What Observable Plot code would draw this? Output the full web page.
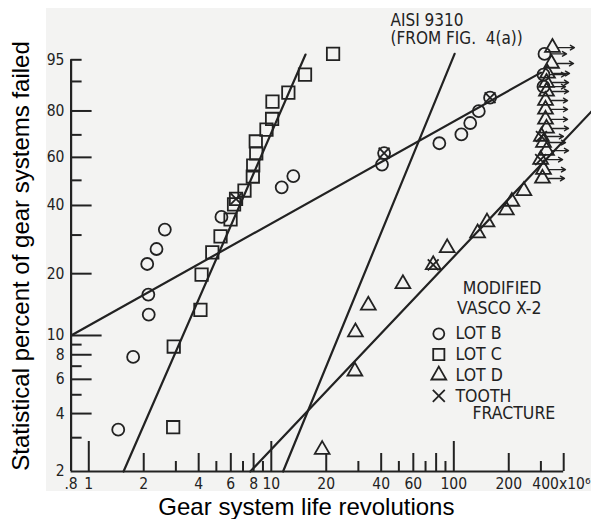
<!DOCTYPE html>
<html>
<head>
<meta charset="utf-8">
<script src="https://cdn.jsdelivr.net/npm/d3@7"></script>
<script src="https://cdn.jsdelivr.net/npm/@observablehq/plot@0.6"></script>
<style>
  body { margin: 0; background: #fff; }
  #wrap { position: relative; width: 591px; height: 519px; overflow: hidden; }
  #paper { position: absolute; left: 46px; top: 8px; width: 545px; height: 483px; background: #f3f3f2; }
  #chart { position: absolute; left: 0; top: 0; }
</style>
</head>
<body>
<div id="wrap"><div id="paper"></div><div id="chart"></div></div>
<script>
// Gear system life (millions of revolutions) and statistical percent failed
const lotBLife = [1.45, 1.75, 2.13, 2.12, 2.09, 2.35, 2.61, 5.33, 11.4, 13.2, 40.4, 41.5, 83.3, 110, 123, 137, 158, 310, 310, 314];
const lotBPct  = [3.3, 7.8, 12.7, 15.9, 22.2, 26.0, 31.7, 35.9, 47.1, 51.8, 56.8, 61.9, 66.3, 70.2, 75.1, 79.9, 84.9, 88.5, 91.8, 96.0];

const lotCLife = [2.90, 2.92, 4.09, 4.15, 4.75, 5.27, 5.98, 6.25, 6.41, 7.13, 7.92, 7.96, 8.27, 8.22, 9.41, 10.1, 10.15, 12.4, 15.3, 21.8];
const lotCPct  = [3.4, 8.8, 13.4, 19.8, 25.1, 29.6, 35.0, 40.4, 42.5, 45.8, 51.6, 56.4, 61.8, 67.1, 72.3, 76.8, 83.5, 86.6, 91.8, 96.0];

const lotDLife = [19.0, 28.7, 28.9, 34.0, 52.6, 77.1, 92.0, 135, 152, 194, 208, 242];
const lotDPct  = [2.6, 6.6, 10.4, 14.1, 17.9, 22.0, 26.3, 30.6, 34.1, 38.3, 41.5, 45.7];

// Lot D units still running at the end of test (drawn with arrows)
const lotDRunLife = [306, 310, 299, 322, 310, 302, 322, 318, 318, 318, 322, 322, 326, 343, 347];
const lotDRunPct  = [50.8, 54.6, 59.0, 63.0, 66.6, 69.3, 72.8, 76.6, 80.6, 83.9, 87.0, 89.7, 92.1, 94.3, 96.9];
const lotBRunLife = [310, 310, 314];
const lotBRunPct  = [88.5, 91.8, 96.0];

// Tooth fracture failures
const toothLife = [6.41, 41.5, 158, 77.1, 299, 302];
const toothPct  = [42.5, 61.9, 84.9, 22.0, 59.0, 69.3];

// Weibull fit lines (two end points each)
const lotBFitLife = [0.8, 300],  lotBFitPct = [10.0, 92.3];
const lotCFitLife = [1.55, 15.4], lotCFitPct = [2, 95.9];
const aisiFitLife = [11.6, 101], aisiFitPct = [2, 96.0];
const lotDFitLife = [7.67, 568], lotDFitPct = [2, 79.8];

// Axis ticks
const xTicksDecade = [1, 10, 100];
const xTicksMajor  = [2, 4, 6, 8, 20, 40, 60, 80, 200, 400];
const xTicksMinor  = [3, 5, 7, 9, 30, 50, 70, 90, 300];
const xTickLabels  = [0.8, 1, 2, 4, 6, 8, 10, 20, 40, 60, 100, 200];
const xLastLabel   = [400];
const yTicksDecade = [10];
const yTicksLong   = [80, 60, 40, 20, 8, 6, 4];
const yTicksShort  = [95, 90, 70, 50, 30, 9, 7, 5, 3];
const yTickLabels  = [95, 80, 60, 40, 20, 10, 8, 6, 4, 2];

const legendLabels  = ["LOT B", "LOT C", "LOT D", "TOOTH"];
const legendSymbols = ["circle", "square", "triangle", "times"];

// Weibull probability transform
const weib = p => Math.log(-Math.log(1 - p / 100));

const W = 591, H = 519, mL = 70.6, mR = 27.8, mT = 59.3, mB = 48;
const frameW = W - mL - mR, frameH = H - mT - mB;
const ink = "#222";
const letter = "'Liberation Sans Narrow', 'DejaVu Sans Condensed', sans-serif";
const idx = a => d3.range(a.length);
const pts = (lx, py) => idx(lx).map(i => ({life: lx[i], pct: py[i]}));

const fit = (lx, py) => Plot.line(pts(lx, py), {x: "life", y: d => weib(d.pct), stroke: ink, strokeWidth: 2.2});
const dots = (lx, py, symbol, r) => Plot.dot(pts(lx, py), {x: "life", y: d => weib(d.pct), symbol, r, stroke: ink, strokeWidth: 1.8, fill: "none"});
const txt = (data, o) => Plot.text(data, {fontFamily: letter, fill: ink, fontSize: 15.5, lineAnchor: "middle", ...o});

const legendMarks = legendLabels.flatMap((label, i) => [
  Plot.dot([label], {frameAnchor: "top-left", dx: 367.7, dy: 274 + i * 20.7, symbol: legendSymbols[i], r: legendSymbols[i] === "square" ? 6.3 : 5.5, stroke: ink, strokeWidth: 1.8, fill: "none"}),
  txt([label], {frameAnchor: "top-left", dx: 384.4, dy: 274 + i * 20.7, textAnchor: "start", fontSize: 17.5})
]);

const chart = Plot.plot({
  width: W, height: H,
  marginLeft: mL, marginRight: mR, marginTop: mT, marginBottom: mB,
  style: {background: "transparent", overflow: "visible"},
  x: {type: "log", domain: [0.8, 400], axis: null},
  y: {type: "linear", domain: [weib(2), weib(95)], axis: null},
  marks: [
    // axes
    Plot.ruleY([2], {y: weib, stroke: ink, strokeWidth: 2.2}),
    Plot.ruleX([0.8], {stroke: ink, strokeWidth: 2.2}),
    Plot.ruleX(xTicksDecade, {x: d => d, insetTop: frameH - 30, stroke: ink, strokeWidth: 2}),
    Plot.ruleX(xTicksMajor, {x: d => d, insetTop: frameH - 18, stroke: ink, strokeWidth: 2}),
    Plot.ruleX(xTicksMinor, {x: d => d, insetTop: frameH - 10, stroke: ink, strokeWidth: 2}),
    Plot.ruleY(yTicksDecade, {y: weib, insetRight: frameW - 31, stroke: ink, strokeWidth: 2}),
    Plot.ruleY(yTicksLong, {y: weib, insetRight: frameW - 21, stroke: ink, strokeWidth: 2}),
    Plot.ruleY(yTicksShort, {y: weib, insetRight: frameW - 11, stroke: ink, strokeWidth: 2}),
    txt(xTickLabels, {x: d => d, frameAnchor: "bottom", dy: 13, textAnchor: "middle", text: d => d < 1 ? ".8" : String(d)}),
    txt(xLastLabel, {x: d => d, frameAnchor: "bottom", dy: 13, dx: 26.8, textAnchor: "end", text: d => d + "x10\u2076"}),
    txt(yTickLabels, {y: weib, frameAnchor: "left", dx: -6.6, textAnchor: "end", text: d => String(d)}),

    // fitted lines
    fit(lotBFitLife, lotBFitPct),
    fit(lotCFitLife, lotCFitPct),
    fit(aisiFitLife, aisiFitPct),
    fit(lotDFitLife, lotDFitPct),

    // test points
    dots(lotBLife, lotBPct, "circle", 6),
    dots(lotCLife, lotCPct, "square", 7),
    dots(lotDLife, lotDPct, "triangle", 5.5),
    dots(lotDRunLife, lotDRunPct, "triangle", 5.5),
    dots(toothLife, toothPct, "times", 5),
    Plot.arrow(pts(lotDRunLife.concat(lotBRunLife), lotDRunPct.concat(lotBRunPct)), {
      x1: "life", x2: d => d.life * 1.32, y1: d => weib(d.pct), y2: d => weib(d.pct),
      insetStart: 6, headLength: 5, stroke: ink, strokeWidth: 1.4
    }),

    // annotations
    txt(["AISI 9310"], {frameAnchor: "top-left", dx: 319.4, dy: -39.3, textAnchor: "start", fontSize: 17}),
    txt(["(FROM FIG.\u00a0\u00a04(a))"], {frameAnchor: "top-left", dx: 319.4, dy: -21, textAnchor: "start", fontSize: 17}),
    txt(["MODIFIED"], {frameAnchor: "top-left", dx: 431, dy: 229, textAnchor: "middle", fontSize: 17.5}),
    txt(["VASCO X-2"], {frameAnchor: "top-left", dx: 386, dy: 249, textAnchor: "start", fontSize: 17.5}),
    ...legendMarks,
    txt(["FRACTURE"], {frameAnchor: "top-left", dx: 401.4, dy: 354, textAnchor: "start", fontSize: 17.5}),

    // axis titles
    Plot.text(["Gear system life revolutions"], {frameAnchor: "bottom", dx: -11, dy: 43, textAnchor: "middle", lineAnchor: "bottom", fontSize: 24, fontFamily: "'Liberation Sans', Arial, sans-serif", fill: "#000"}),
    Plot.text(["Statistical percent of gear systems failed"], {frameAnchor: "left", rotate: -90, dx: -42.6, dy: -9.7, textAnchor: "middle", lineAnchor: "bottom", fontSize: 24, fontFamily: "'Liberation Sans', Arial, sans-serif", fill: "#000"})
  ]
});
document.getElementById("chart").appendChild(chart);
</script>
</body>
</html>
